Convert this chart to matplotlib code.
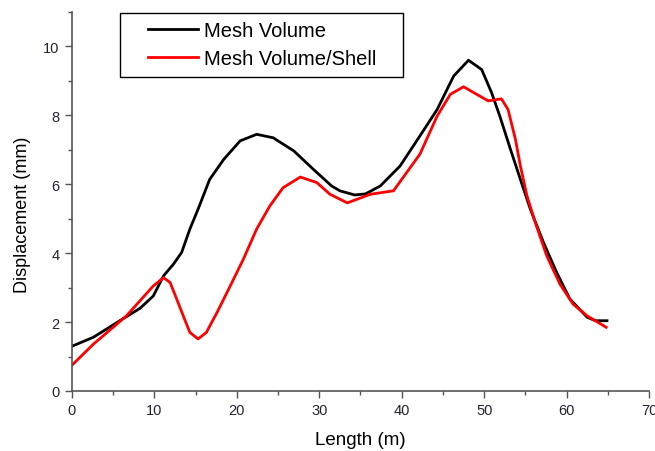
import matplotlib
matplotlib.use("Agg")
import matplotlib.pyplot as plt
from matplotlib.ticker import MultipleLocator
from matplotlib.patches import Rectangle
from matplotlib import font_manager

x_black = [0.0, 2.6, 5.8, 8.25, 9.87, 11.1, 12.3, 13.3, 14.3, 15.3, 16.7, 18.4, 20.4, 22.4,
           24.4, 26.9, 29.3, 31.5, 32.5, 34.3, 35.6, 37.4, 39.8, 42.2, 44.3, 46.3, 48.1,
           49.7, 50.9, 51.9, 53.2, 54.4, 55.6, 57.2, 58.8, 60.4, 62.5, 63.5, 64.9]
y_black = [1.30, 1.56, 2.04, 2.40, 2.76, 3.34, 3.68, 4.02, 4.70, 5.28, 6.14, 6.72, 7.26, 7.45,
           7.35, 6.97, 6.43, 5.95, 5.81, 5.69, 5.72, 5.95, 6.53, 7.40, 8.17, 9.14, 9.60,
           9.33, 8.66, 7.98, 7.01, 6.14, 5.28, 4.31, 3.44, 2.67, 2.14, 2.04, 2.04]

x_red = [0.0, 2.6, 6.6, 8.25, 9.87, 11.1, 11.9, 12.7, 13.5, 14.3, 15.3, 16.3, 17.6, 19.2,
         20.8, 22.4, 24.0, 25.6, 27.7, 29.7, 31.3, 33.4, 36.2, 39.0, 40.6, 42.2, 44.3,
         45.9, 47.5, 49.1, 50.5, 52.1, 52.9, 53.8, 54.4, 55.2, 56.2, 57.6, 59.2, 60.8,
         62.5, 64.8]
y_red = [0.75, 1.36, 2.18, 2.62, 3.05, 3.29, 3.15, 2.67, 2.18, 1.70, 1.51, 1.70, 2.28, 3.05,
         3.83, 4.70, 5.37, 5.90, 6.21, 6.05, 5.71, 5.46, 5.71, 5.81, 6.34, 6.87, 7.98,
         8.61, 8.83, 8.61, 8.42, 8.48, 8.17, 7.30, 6.53, 5.66, 4.89, 3.92, 3.10, 2.52,
         2.18, 1.85]

series_labels = ["Mesh Volume", "Mesh Volume/Shell"]
x_label = "Length (m)"
y_label = "Displacement (mm)"

names = {f.name for f in font_manager.fontManager.ttflist}
tick_font = "Liberation Sans Narrow" if "Liberation Sans Narrow" in names else "Liberation Sans"

plt.rcParams['font.family'] = ['Liberation Sans', 'DejaVu Sans']

W, H = 655, 452
fig = plt.figure(figsize=(W / 100, H / 100), dpi=100)
ax = fig.add_axes([72 / W, 1 - 392 / H, 577 / W, 379 / H])

l1, = ax.plot(x_black, y_black, color="black", lw=2.0, label=series_labels[0],
              solid_joinstyle="round")
l2, = ax.plot(x_red, y_red, color="#ff0000", lw=2.0, label=series_labels[1],
              solid_joinstyle="round")

ax.set_xlim(0, 70)
ax.set_ylim(0, 11)
ax.xaxis.set_major_locator(MultipleLocator(10))
ax.xaxis.set_minor_locator(MultipleLocator(5))
ax.yaxis.set_major_locator(MultipleLocator(2))
ax.yaxis.set_minor_locator(MultipleLocator(1))

for s in ["top", "right"]:
    ax.spines[s].set_visible(False)
for s in ["left", "bottom"]:
    ax.spines[s].set_color("#555555")
    ax.spines[s].set_linewidth(1.2)

ax.tick_params(which="major", direction="out", length=5, width=1, color="#555555",
               labelsize=10.5, labelcolor="#222233", pad=4)
ax.tick_params(which="minor", direction="out", length=3, width=1, color="#555555")
for lab in ax.get_xticklabels() + ax.get_yticklabels():
    lab.set_family([tick_font, "DejaVu Sans"])

ax.set_xlabel(x_label, fontsize=13.5)
ax.set_ylabel(y_label, fontsize=13)
ax.xaxis.label.set_va("center")
ax.yaxis.label.set_va("center")
ax.xaxis.set_label_coords(0.5, -(441 - 392) / 379)
ax.yaxis.set_label_coords((23 - 72) / 577, (392 - 215) / 379)

# legend frame
rect = Rectangle((120 / W, 1 - 78 / H), (403 - 120) / W, (78 - 14) / H,
                 transform=fig.transFigure, fill=True, facecolor="white",
                 edgecolor="black", linewidth=1.0, zorder=5)
fig.add_artist(rect)
leg = fig.legend(handles=[l1, l2], labels=series_labels, loc="upper left",
                 bbox_to_anchor=(148 / W, 1 - 22 / H), bbox_transform=fig.transFigure,
                 frameon=False, fontsize=14.5, handlelength=2.5, handletextpad=0.3,
                 borderpad=0, labelspacing=0.45, borderaxespad=0)
leg.set_zorder(6)

fig.savefig("out.png", dpi=100)
